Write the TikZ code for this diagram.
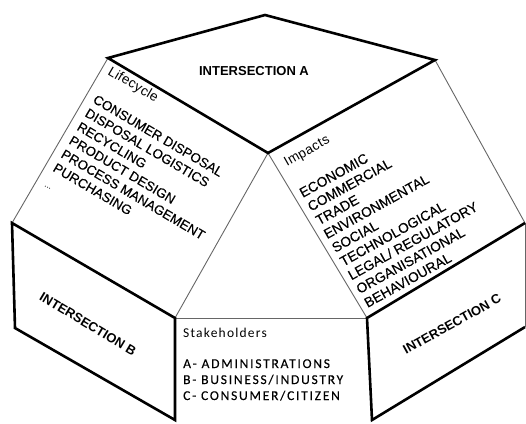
\documentclass[tikz,border=0pt]{standalone}
\usepackage{fontspec}
\setmainfont{Liberation Sans}
\newfontfamily\labfont[LetterSpace=3]{Liberation Sans}
\newfontfamily\listfont[FakeBold=0.3]{Liberation Sans}
\newfontfamily\stakefont[LetterSpace=9]{Carlito}
\newfontfamily\stakeitemfont[LetterSpace=13,FakeBold=0.3]{Carlito}
\begin{document}
\begin{tikzpicture}[x=1pt,y=-1pt,
  thickline/.style={line width=2.6pt, line join=miter},
  thinline/.style={line width=0.9pt, draw=black!60},
  titletext/.style={font=\fontsize{13}{15}\selectfont\bfseries, inner sep=0pt},
  labtext/.style={font=\labfont\fontsize{13.5}{15}\selectfont, inner sep=0pt, anchor=base west},
  listtext/.style={font=\listfont\fontsize{13.3}{16}\selectfont, inner sep=0pt, anchor=base west},
  implisttext/.style={font=\listfont\fontsize{13.8}{16}\selectfont, inner sep=0pt, anchor=base west},
  staketext/.style={font=\stakefont\fontsize{13.5}{16}\selectfont, inner sep=0pt, anchor=base west},
  stakeitem/.style={font=\stakeitemfont\fontsize{13.5}{16}\selectfont, inner sep=0pt, anchor=base west}]
\useasboundingbox (0,0) rectangle (526,423);
% vertices
\coordinate (aL) at (108,58);
\coordinate (aT) at (265,15);
\coordinate (aR) at (435,60);
\coordinate (aB) at (268,153);
\coordinate (bTL) at (12,223);
\coordinate (bTR) at (175,318);
\coordinate (bBR) at (175,420);
\coordinate (bBL) at (15,328);
\coordinate (cTR) at (525,223);
\coordinate (cTL) at (367,318);
\coordinate (cBL) at (372,420);
\coordinate (cBR) at (525,327);
% thin edges
\draw[thinline] (aL) -- (bTL);
\draw[thinline] (aB) -- (bTR);
\draw[thinline] (aB) -- (cTL);
\draw[thinline] (aR) -- (cTR);
\draw[thinline] (bTR) -- (cTL);
\draw[thinline] (cTR) -- (cBR);
% thick outlines
\draw[thickline] (aL) -- (aT) -- (aR) -- (aB) -- cycle;
\draw[thickline] (bTL) -- (bTR) -- (bBR) -- (bBL) -- cycle;
\draw[thickline] (cTR) -- (cTL) -- (cBL) -- (cBR);
% titles
\node[titletext] (ta) at (254,71) {INTERSECTION A};
\node[titletext, rotate=-31] (tb) at (88,324) {INTERSECTION B};
\node[titletext, rotate=29] (tc) at (452,324) {INTERSECTION C};
% lifecycle
\node[labtext, rotate=-30.5] (lc) at (107,74) {Lifecycle};
\foreach \t [count=\i from 0] in {CONSUMER DISPOSAL, DISPOSAL LOGISTICS, RECYCLING, PRODUCT DESIGN, PROCESS MANAGEMENT, PURCHASING}
  \node[listtext, rotate=-30.5] (lcl\i) at ({92-8*\i},{102+13.7*\i}) {\t};
\node[listtext, rotate=-30.5, font=\fontsize{9}{10}\selectfont] (lcdots) at (44,186) {...};
% impacts
\node[labtext, rotate=29.5] (im) at (287,167) {Impacts};
\foreach \t [count=\i from 0] in {ECONOMIC, COMMERCIAL, TRADE, ENVIRONMENTAL, SOCIAL, TECHNOLOGICAL, LEGAL/ REGULATORY, ORGANISATIONAL, BEHAVIOURAL}
  \node[implisttext, rotate=29] (iml\i) at ({302.7+8.1*\i},{198+13.75*\i}) {\t};
% stakeholders
\node[staketext] (sh) at (183,337) {Stakeholders};
\node[stakeitem] (sha) at (183,368) {A- ADMINISTRATIONS};
\node[stakeitem] (shb) at (183,384) {B- BUSINESS/INDUSTRY};
\node[stakeitem] (shc) at (183,400) {C- CONSUMER/CITIZEN};
\end{tikzpicture}
\end{document}
